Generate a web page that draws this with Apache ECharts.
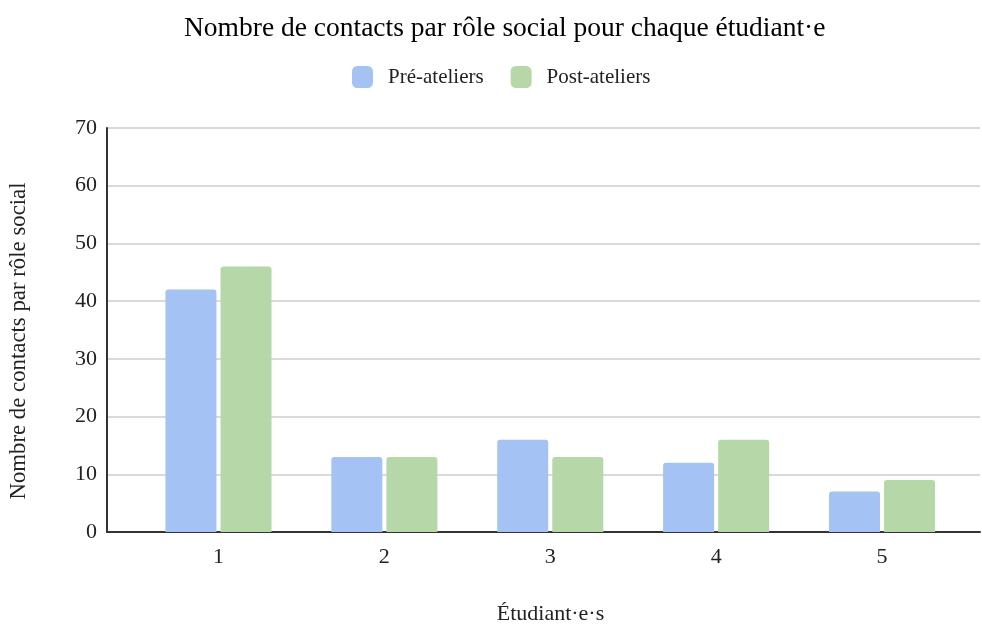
<!DOCTYPE html>
<html><head><meta charset="utf-8">
<script src="https://cdn.jsdelivr.net/npm/echarts@6/dist/echarts.min.js"></script>
<style>html,body{margin:0;padding:0;background:#fff}#c{width:982px;height:624px}</style>
</head><body><div id="c"></div>
<script>
const categories = ['1','2','3','4','5'];
const preAteliers = [42, 13, 16, 12, 7];
const postAteliers = [46, 13, 13, 16, 9];
const seriesNames = ['Pré-ateliers', 'Post-ateliers'];
const FONT = '"Liberation Serif", "DejaVu Serif", serif';
const positions = categories.map((c, i) => i + 1);
const toPairs = arr => arr.map((v, i) => [positions[i], v]);
const chart = echarts.init(document.getElementById('c'));
chart.setOption({
  animation: false,
  backgroundColor: '#fff',
  title: {
    text: 'Nombre de contacts par rôle social pour chaque étudiant·e',
    left: 179, top: 10,
    textStyle: { fontFamily: FONT, fontSize: 27.5, fontWeight: 'normal', color: '#000' }
  },
  legend: {
    top: 66, left: 352, itemWidth: 21, itemHeight: 22, itemGap: 27,
    icon: 'roundRect', padding: 0,
    textStyle: { fontFamily: FONT, fontSize: 21, color: '#222', padding: [0,0,0,10] },
    data: seriesNames
  },
  grid: { left: 107, right: 2, top: 128, bottom: 92, outerBoundsMode: 'none' },
  xAxis: {
    type: 'value', min: 0.3279, max: 5.5907,
    name: 'Étudiant·e·s', nameLocation: 'middle', nameGap: 71,
    nameTextStyle: { fontFamily: FONT, fontSize: 22, color: '#222', padding: [0,0,0,14] },
    axisLine: { show: true, lineStyle: { color: '#333', width: 2 } },
    axisTick: { show: false },
    splitLine: { show: false },
    axisLabel: { fontFamily: FONT, fontSize: 22, color: '#222', margin: 14,
      customValues: positions,
      formatter: v => categories[Math.round(v) - 1] || '' }
  },
  yAxis: {
    type: 'value', min: 0, max: 70, interval: 10,
    name: 'Nombre de contacts par rôle social', nameLocation: 'middle', nameGap: 76,
    nameTextStyle: { fontFamily: FONT, fontSize: 22.8, color: '#222', padding: [0,22,0,0] },
    axisLine: { show: true, lineStyle: { color: '#333', width: 2 } },
    axisTick: { show: false },
    axisLabel: { fontFamily: FONT, fontSize: 22, color: '#222', margin: 10 },
    splitLine: { lineStyle: { color: '#ccc', width: 1.5 } }
  },
  series: [
    { name: seriesNames[0], type: 'bar', data: toPairs(preAteliers), barWidth: 51, barGap: '8%',
      itemStyle: { color: '#a4c2f4', borderRadius: [3,3,0,0] } },
    { name: seriesNames[1], type: 'bar', data: toPairs(postAteliers), barWidth: 51, barGap: '8%',
      itemStyle: { color: '#b6d7a8', borderRadius: [3,3,0,0] } }
  ]
});
</script></body></html>
